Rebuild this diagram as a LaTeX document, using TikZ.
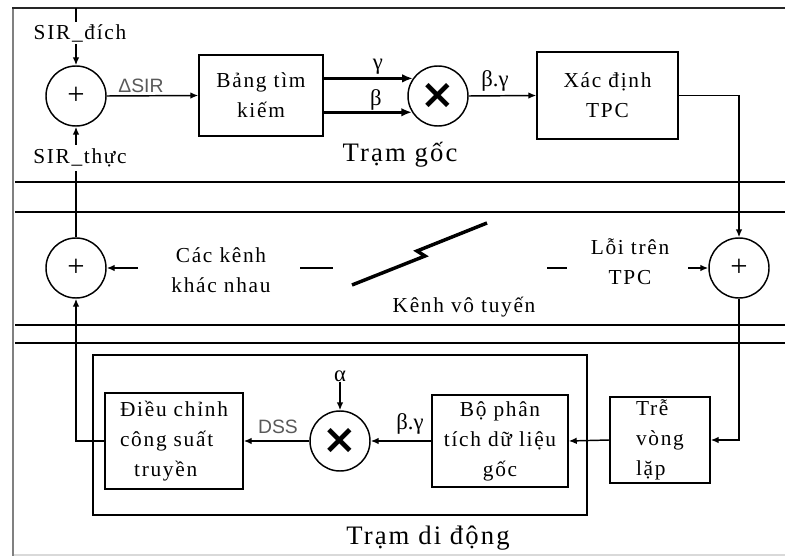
\documentclass[tikz,border=0pt]{standalone}
\usepackage{fontspec}
\setmainfont{Liberation Serif}
\newfontfamily\wideserif[LetterSpace=8]{Liberation Serif}
\newfontfamily\labsans{Liberation Sans}
\newfontfamily\symfont{DejaVu Sans}
\usetikzlibrary{arrows.meta,calc}
\begin{document}
\begin{tikzpicture}[x=0.75pt,y=-0.75pt,
  every node/.style={inner sep=0pt},
  txt/.style={font=\wideserif\fontsize{16}{22.5}\selectfont, align=center},
  big/.style={font=\wideserif\fontsize{20}{24}\selectfont},
  greek/.style={font=\fontsize{17}{20}\selectfont},
  sans/.style={font=\labsans\fontsize{14.5}{16}\selectfont, text=black!65},
  ln/.style={line width=1.1pt},
  arr/.style={ln,-{Latex[length=6pt,width=5pt]}},
  thickarr/.style={line width=2.2pt,-{Latex[length=8pt,width=6.5pt]}},
  sumnode/.style={draw,circle,line width=1.1pt,minimum size=45pt,
     font=\fontsize{23}{23}\selectfont},
  mulnode/.style={draw,circle,line width=1.1pt,minimum size=45pt,
     font=\symfont\bfseries\fontsize{31}{31}\selectfont},
  blk/.style={draw,line width=1.1pt,txt}
]
\useasboundingbox (0,0) rectangle (785,556);
% page frame
\draw[line width=2.2pt, black!50] (13,8) -- (13,556);
\draw[line width=1.5pt, black!85] (12,8) -- (785,8);
\draw[line width=0.8pt, black!15] (14,555) -- (785,555);
% band lines
\foreach \yy in {182,212,325,343} \draw[ln] (15,\yy) -- (785,\yy);

% ---------- base station ----------
\coordinate (top) at (76,8);
\node[sumnode] (c1) at (76,96) {+};
\draw[arr] (top) -- (c1.north);
\node[txt, fill=white, inner ysep=2pt] (sird) at (80,33) {SIR\_đích};
\node[blk, minimum width=93pt, minimum height=60.75pt] (b1) at (261,95.5) {Bảng tìm\\kiếm};
\draw[arr] (c1.east) -- (b1.west);
\node[sans] (dsir) at (141,86) {ΔSIR};
\node[mulnode] (cx) at (438,96) {×};
\draw[thickarr] (cx.145.5 -| b1.east) -- (cx.145.5);
\draw[thickarr] (cx.212 -| b1.east) -- (cx.212);
\node[greek] (gam) at (378,67) {γ};
\node[greek] (bet) at (376,100) {β};
\node[blk, minimum width=105.75pt, minimum height=65.25pt] (b2) at (607.5,95.5) {Xác định\\TPC};
\draw[arr] (cx.east) -- (b2.west);
\node[greek] (bg1) at (495,81) {β.γ};
\node[big] (tgoc) at (400,155) {Trạm gốc};

% ---------- radio channel ----------
\node[sumnode] (c2) at (76,268) {+};
\node[sumnode] (c3) at (739,268) {+};
\draw[arr] (c2.north) -- (c1.south);
\node[txt, fill=white, inner ysep=3pt] (sirt) at (80,158) {SIR\_thực};
\draw[arr] (b2.east) -- (c3.north |- b2.east) -- (c3.north);
\coordinate (kin) at (138,268);
\draw[arr] (kin) -- (c2.east);
\node[txt] (kenh) at (221,270) {Các kênh\\khác nhau};
\coordinate (d1a) at (300,268); \coordinate (d1b) at (333,268);
\draw[ln] (d1a) -- (d1b);
\coordinate (d2a) at (547,268); \coordinate (d2b) at (567,268);
\draw[ln] (d2a) -- (d2b);
\draw[line width=2.6pt, line join=miter] (352,285) -- (425,256) -- (417,251) -- (487,223);
\node[txt] (kvt) at (464,307) {Kênh vô tuyến};
\node[txt] (loi) at (630,262) {Lỗi trên\\TPC};
\coordinate (lin) at (688,268);
\draw[arr] (lin) -- (c3.west);

% ---------- mobile station ----------
\node[draw, ln, minimum width=370.5pt, minimum height=120pt] (ms) at (340,435) {};
\node[big] (tdd) at (428,538) {Trạm di động};
\node[blk, align=left, minimum width=75pt, minimum height=64.5pt] (tre) at (660,440) {Trễ\\vòng\\lặp};
\draw[arr] (c3.south) -- (c3.south |- tre.east) -- (tre.east);
\node[blk, minimum width=102pt, minimum height=69pt] (bo) at (500,441) {Bộ phân\\tích dữ liệu\\gốc};
\draw[arr] (tre.west) -- (bo.east);
\node[mulnode] (cx2) at (340,441) {×};
\draw[arr] (bo.west) -- (cx2.east);
\node[greek] (bg2) at (410,424) {β.γ};
\node[greek] (alp) at (340,376) {α};
\draw[arr] (alp.south) -- (cx2.north);
\node[blk, align=left, minimum width=103.5pt, minimum height=72pt] (dc) at (174,441) {Điều chỉnh\\công suất\\\ \ truyền};
\draw[arr] (cx2.west) -- (dc.east);
\node[sans] (dss) at (278,427) {DSS};
\draw[arr] (dc.west) -- (c2.south |- dc.west) -- (c2.south);
\end{tikzpicture}
\end{document}
